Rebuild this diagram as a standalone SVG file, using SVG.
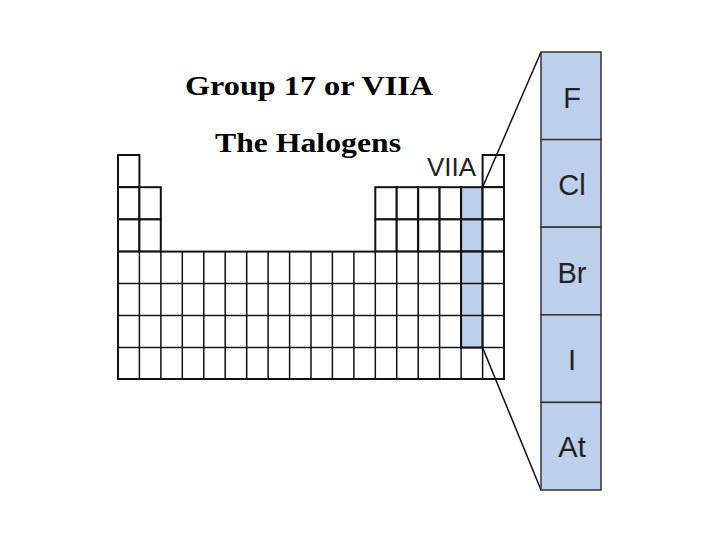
<svg xmlns="http://www.w3.org/2000/svg" width="720" height="540" viewBox="0 0 720 540">
<style>
.c{fill:#fff;stroke:#111;stroke-width:2}
.h{fill:#bccfeb;stroke:#111;stroke-width:2}
.g{fill:#bccfeb;stroke:#333;stroke-width:1.5}
.t{font-family:"Liberation Serif",serif;font-weight:bold;font-size:28px;fill:#000}
.e{font-family:"Liberation Sans",Arial,sans-serif;font-size:29px;fill:#222;text-anchor:middle}
.ln{stroke:#111;stroke-width:1.5;fill:none}
</style>
<rect width="720" height="540" fill="#fff"/>
<text class="t" x="185" y="95" textLength="248" lengthAdjust="spacingAndGlyphs">Group 17 or VIIA</text>
<text class="t" x="215" y="152" textLength="186" lengthAdjust="spacingAndGlyphs">The Halogens</text>
<g id="table">
<rect class="c" x="118" y="155" width="21.4" height="32.2"/>
<rect class="c" x="482.6" y="155" width="21.4" height="32.2"/>
<g id="rows23">
<rect class="c" x="118" y="187.2" width="21.4" height="32.2"/><rect class="c" x="139.4" y="187.2" width="21.4" height="32.2"/>
<rect class="c" x="118" y="219.4" width="21.4" height="32.2"/><rect class="c" x="139.4" y="219.4" width="21.4" height="32.2"/>
<rect class="c" x="375.3" y="187.2" width="21.4" height="32.2"/><rect class="c" x="396.7" y="187.2" width="21.4" height="32.2"/><rect class="c" x="418.2" y="187.2" width="21.4" height="32.2"/><rect class="c" x="439.6" y="187.2" width="21.4" height="32.2"/><rect class="h" x="461.1" y="187.2" width="21.4" height="32.2"/><rect class="c" x="482.6" y="187.2" width="21.4" height="32.2"/>
<rect class="c" x="375.3" y="219.4" width="21.4" height="32.2"/><rect class="c" x="396.7" y="219.4" width="21.4" height="32.2"/><rect class="c" x="418.2" y="219.4" width="21.4" height="32.2"/><rect class="c" x="439.6" y="219.4" width="21.4" height="32.2"/><rect class="h" x="461.1" y="219.4" width="21.4" height="32.2"/><rect class="c" x="482.6" y="219.4" width="21.4" height="32.2"/>
</g>
<g id="rows47">
<rect class="c" x="118" y="251.6" width="386" height="127.4"/>
<rect class="h" x="461.1" y="251.6" width="21.4" height="96"/>
<path class="ln" stroke-width="2" d="M118 283.5H504M118 315.4H504M118 347.6H504M139.4 251.6V379M160.9 251.6V379M182.3 251.6V379M203.8 251.6V379M225.2 251.6V379M246.7 251.6V379M268.1 251.6V379M289.6 251.6V379M311 251.6V379M332.4 251.6V379M353.9 251.6V379M375.3 251.6V379M396.7 251.6V379M418.2 251.6V379M439.6 251.6V379M461.1 251.6V379M482.6 251.6V379"/>
</g>
<text x="427" y="176" font-family="Liberation Sans,Arial,sans-serif" font-size="26" fill="#222" textLength="49" lengthAdjust="spacingAndGlyphs">VIIA</text>
</g>
<g id="connectors">
<line class="ln" x1="482.6" y1="187.2" x2="541" y2="52"/>
<line class="ln" x1="482.6" y1="347.6" x2="541" y2="490"/>
</g>
<g id="group17">
<rect class="g" x="541" y="52" width="60" height="87.6"/><text class="e" x="572" y="108">F</text>
<rect class="g" x="541" y="139.6" width="60" height="87.6"/><text class="e" x="572" y="195">Cl</text>
<rect class="g" x="541" y="227.2" width="60" height="87.6"/><text class="e" x="572" y="283">Br</text>
<rect class="g" x="541" y="314.8" width="60" height="87.6"/><text class="e" x="572" y="370">I</text>
<rect class="g" x="541" y="402.4" width="60" height="87.6"/><text class="e" x="572" y="457">At</text>
</g>
</svg>
